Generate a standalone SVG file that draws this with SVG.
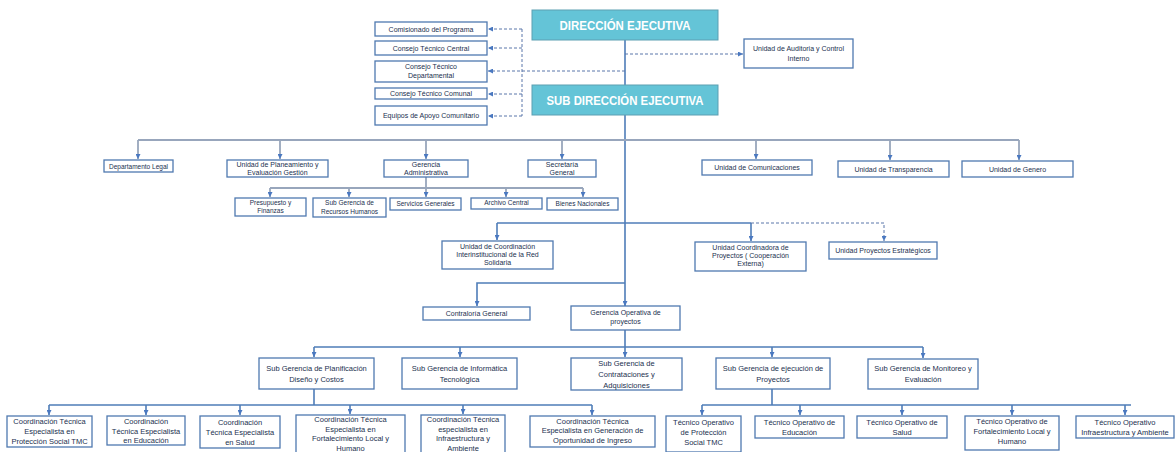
<svg xmlns="http://www.w3.org/2000/svg" width="1175" height="452" viewBox="0 0 1175 452">
<style>
.box{fill:#fff;stroke:#4f79b0;stroke-width:1.3}
.head{fill:#64c4d7;stroke:#5c9fb2;stroke-width:1}
.t{font-family:"Liberation Sans",Arial,sans-serif;font-size:7px;fill:#22304f;text-anchor:middle}
.s{font-size:6.5px}
.b{font-size:7.5px}
.title{font-family:"Liberation Sans",Arial,sans-serif;font-weight:bold;font-size:13px;fill:#fff;text-anchor:middle}
.ln{stroke:#4f7db8;stroke-width:1.6;fill:none}
.gl{stroke:#98a6bc;stroke-width:1.8;fill:none}
.ds{stroke:#5b76aa;stroke-width:1;stroke-dasharray:3 2;fill:none}
</style>
<defs>
<marker id="ah" viewBox="0 0 6 6" refX="6" refY="3" markerWidth="5" markerHeight="5" orient="auto" markerUnits="userSpaceOnUse"><path d="M0,0L6,3L0,6z" fill="#4a78c0"/></marker>
</defs>
<rect width="1175" height="452" fill="#fff"/>
<g id="connectors">
<path class="ln" d="M625,40V85M625,115V306" marker-end="url(#ah)"/>
<path class="ds" d="M625,54H743" marker-end="url(#ah)"/>
<path class="ds" d="M625,71H488" marker-end="url(#ah)"/>
<path class="ds" d="M522,29V116"/>
<path class="ds" d="M522,29H488" marker-end="url(#ah)"/>
<path class="ds" d="M522,48H488" marker-end="url(#ah)"/>
<path class="ds" d="M522,94H488" marker-end="url(#ah)"/>
<path class="ds" d="M522,116H488" marker-end="url(#ah)"/>
<path class="gl" d="M138,140H1019"/>
<path class="gl" d="M138,140V159" marker-end="url(#ah)"/>
<path class="gl" d="M280,140V159" marker-end="url(#ah)"/>
<path class="gl" d="M426,140V159" marker-end="url(#ah)"/>
<path class="gl" d="M562,140V159" marker-end="url(#ah)"/>
<path class="gl" d="M756,140V159" marker-end="url(#ah)"/>
<path class="gl" d="M890,140V160" marker-end="url(#ah)"/>
<path class="gl" d="M1019,140V160" marker-end="url(#ah)"/>
<path class="gl" d="M426,177V188M270,188H583"/>
<path class="gl" d="M270,188V197" marker-end="url(#ah)"/>
<path class="gl" d="M349,188V197" marker-end="url(#ah)"/>
<path class="gl" d="M426,188V197" marker-end="url(#ah)"/>
<path class="gl" d="M506,188V197" marker-end="url(#ah)"/>
<path class="gl" d="M583,188V197" marker-end="url(#ah)"/>
<path class="ln" d="M497,223H751"/>
<path class="ln" d="M497,223V240" marker-end="url(#ah)"/>
<path class="ln" d="M751,223V241" marker-end="url(#ah)"/>
<path class="ds" d="M751,223H884V241" marker-end="url(#ah)"/>
<path class="ln" d="M625,283H477V306" marker-end="url(#ah)"/>
<path class="ln" d="M625,330V347M314,347H923"/>
<path class="ln" d="M314,347V357" marker-end="url(#ah)"/>
<path class="ln" d="M460,347V357" marker-end="url(#ah)"/>
<path class="ln" d="M625,347V357" marker-end="url(#ah)"/>
<path class="ln" d="M772,347V357" marker-end="url(#ah)"/>
<path class="ln" d="M923,347V358" marker-end="url(#ah)"/>
<path class="ln" d="M314,389V405M49,405H592"/>
<path class="ln" d="M49,405V415" marker-end="url(#ah)"/>
<path class="ln" d="M146,405V415" marker-end="url(#ah)"/>
<path class="ln" d="M240,405V415" marker-end="url(#ah)"/>
<path class="ln" d="M350,405V414" marker-end="url(#ah)"/>
<path class="ln" d="M463,405V414" marker-end="url(#ah)"/>
<path class="ln" d="M592,405V415" marker-end="url(#ah)"/>
<path class="ln" d="M772,389V405M702,405H1131"/>
<path class="ln" d="M702,405V415" marker-end="url(#ah)"/>
<path class="ln" d="M800,405V415" marker-end="url(#ah)"/>
<path class="ln" d="M902,405V415" marker-end="url(#ah)"/>
<path class="ln" d="M1012,405V415" marker-end="url(#ah)"/>
<path class="ln" d="M1125,405V415" marker-end="url(#ah)"/>
</g>
<g id="n_dir"><rect class="head" x="532" y="10" width="186" height="30"/><text class="title" x="625" y="30" textLength="131" lengthAdjust="spacingAndGlyphs">DIRECCIÓN EJECUTIVA</text></g>
<g id="n_subdir"><rect class="head" x="532" y="85" width="186" height="30"/><text class="title" x="625" y="105" textLength="157" lengthAdjust="spacingAndGlyphs">SUB DIRECCIÓN EJECUTIVA</text></g>
<g id="n_comis"><rect class="box" x="375" y="22" width="112" height="14"/><text class="t" x="431" y="31.5">Comisionado del Programa</text></g>
<g id="n_ctc"><rect class="box" x="375" y="41" width="112" height="14"/><text class="t" x="431" y="50.5">Consejo Técnico Central</text></g>
<g id="n_ctd"><rect class="box" x="375" y="61" width="112" height="21"/><text class="t" x="431" y="69">Consejo Técnico</text><text class="t" x="431" y="78">Departamental</text></g>
<g id="n_ctcom"><rect class="box" x="375" y="88" width="112" height="11"/><text class="t" x="431" y="96">Consejo Técnico Comunal</text></g>
<g id="n_equipos"><rect class="box" x="375" y="106" width="112" height="19"/><text class="t" x="431" y="118">Equipos de Apoyo Comunitario</text></g>
<g id="n_audit"><rect class="box" x="744" y="39" width="109" height="29"/><text class="t" x="798.5" y="51">Unidad de Auditoria y Control</text><text class="t" x="798.5" y="61">Interno</text></g>
<g id="n_legal"><rect class="box" x="104" y="160" width="69" height="12"/><text class="t s" x="138.5" y="168.5">Departamento Legal</text></g>
<g id="n_planea"><rect class="box" x="227" y="160" width="101" height="17"/><text class="t" x="277.5" y="167">Unidad de Planeamiento y</text><text class="t" x="277.5" y="175">Evaluación Gestión</text></g>
<g id="n_geradm"><rect class="box" x="384" y="160" width="84" height="17"/><text class="t" x="426" y="167">Gerencia</text><text class="t" x="426" y="175">Administrativa</text></g>
<g id="n_secret"><rect class="box" x="528" y="160" width="68" height="17"/><text class="t" x="562" y="167">Secretaría</text><text class="t" x="562" y="175">General</text></g>
<g id="n_comunic"><rect class="box" x="702" y="160" width="110" height="15"/><text class="t" x="757" y="170">Unidad de Comunicaciones</text></g>
<g id="n_transp"><rect class="box" x="838" y="161" width="111" height="16"/><text class="t" x="893.5" y="171.5">Unidad de Transparencia</text></g>
<g id="n_genero"><rect class="box" x="962" y="161" width="111" height="16"/><text class="t" x="1017.5" y="171.5">Unidad de Genero</text></g>
<g id="n_presup"><rect class="box" x="235" y="198" width="71" height="18"/><text class="t s" x="270.5" y="205">Presupuesto y</text><text class="t s" x="270.5" y="213">Finanzas</text></g>
<g id="n_rrhh"><rect class="box" x="313" y="198" width="73" height="19"/><text class="t s" x="349.5" y="205">Sub Gerencia de</text><text class="t s" x="349.5" y="213.5">Recursos Humanos</text></g>
<g id="n_servgen"><rect class="box" x="390" y="198" width="71" height="12"/><text class="t s" x="425.5" y="206">Servicios Generales</text></g>
<g id="n_archivo"><rect class="box" x="471" y="198" width="71" height="11"/><text class="t s" x="506.5" y="205">Archivo Central</text></g>
<g id="n_bienes"><rect class="box" x="547" y="198" width="71" height="12"/><text class="t s" x="582.5" y="206">Bienes Nacionales</text></g>
<g id="n_ucirs"><rect class="box" x="442" y="241" width="111" height="28"/><text class="t" x="497.5" y="249">Unidad de Coordinación</text><text class="t" x="497.5" y="257">Interinstitucional de la Red</text><text class="t" x="497.5" y="265">Solidaria</text></g>
<g id="n_ucp"><rect class="box" x="695" y="242" width="111" height="29"/><text class="t" x="750.5" y="250">Unidad Coordinadora de</text><text class="t" x="750.5" y="258">Proyectos ( Cooperación</text><text class="t" x="750.5" y="266">Externa)</text></g>
<g id="n_upe"><rect class="box" x="829" y="242" width="108" height="17"/><text class="t" x="883" y="252.5">Unidad Proyectos Estratégicos</text></g>
<g id="n_contra"><rect class="box" x="423" y="307" width="107" height="13"/><text class="t" x="476.5" y="316">Contraloría General</text></g>
<g id="n_gop"><rect class="box" x="571" y="306" width="109" height="24"/><text class="t" x="625.5" y="315">Gerencia Operativa de</text><text class="t" x="625.5" y="324">proyectos</text></g>
<g id="n_sgplan"><rect class="box" x="259" y="358" width="115" height="31"/><text class="t b" x="316.5" y="371">Sub Gerencia de Planificación</text><text class="t b" x="316.5" y="382">Diseño y Costos</text></g>
<g id="n_sginf"><rect class="box" x="402" y="358" width="115" height="31"/><text class="t b" x="459.5" y="371">Sub Gerencia de Informática</text><text class="t b" x="459.5" y="382">Tecnológica</text></g>
<g id="n_sgcon"><rect class="box" x="571" y="358" width="111" height="32"/><text class="t b" x="626.5" y="366">Sub Gerencia de</text><text class="t b" x="626.5" y="377">Contrataciones y</text><text class="t b" x="626.5" y="388">Adquisiciones</text></g>
<g id="n_sgeje"><rect class="box" x="716" y="358" width="114" height="31"/><text class="t b" x="773" y="371">Sub Gerencia de ejecución de</text><text class="t b" x="773" y="382">Proyectos</text></g>
<g id="n_sgmon"><rect class="box" x="868" y="359" width="110" height="30"/><text class="t b" x="923" y="371">Sub Gerencia de Monitoreo y</text><text class="t b" x="923" y="382">Evaluación</text></g>
<g id="n_ct1"><rect class="box" x="7" y="416" width="85" height="31"/><text class="t b" x="49.5" y="424">Coordinación Técnica</text><text class="t b" x="49.5" y="434">Especialista en</text><text class="t b" x="49.5" y="444">Protección Social TMC</text></g>
<g id="n_ct2"><rect class="box" x="107" y="416" width="78" height="29"/><text class="t b" x="146" y="424">Coordinación</text><text class="t b" x="146" y="433.5">Técnica Especialista</text><text class="t b" x="146" y="443">en Educación</text></g>
<g id="n_ct3"><rect class="box" x="200" y="416" width="80" height="32"/><text class="t b" x="240" y="425">Coordinación</text><text class="t b" x="240" y="435">Técnica Especialista</text><text class="t b" x="240" y="445">en Salud</text></g>
<g id="n_ct4"><rect class="box" x="296" y="415" width="109" height="40"/><text class="t b" x="350.5" y="422">Coordinación Técnica</text><text class="t b" x="350.5" y="431.5">Especialista en</text><text class="t b" x="350.5" y="441">Fortalecimiento Local y</text><text class="t b" x="350.5" y="450.5">Humano</text></g>
<g id="n_ct5"><rect class="box" x="421" y="415" width="84" height="40"/><text class="t b" x="463" y="422">Coordinación Técnica</text><text class="t b" x="463" y="431.5">especialista en</text><text class="t b" x="463" y="441">Infraestructura y</text><text class="t b" x="463" y="450.5">Ambiente</text></g>
<g id="n_ct6"><rect class="box" x="530" y="416" width="125" height="31"/><text class="t b" x="592.5" y="423.5">Coordinación Técnica</text><text class="t b" x="592.5" y="433">Especialista en Generación de</text><text class="t b" x="592.5" y="442.5">Oportunidad de Ingreso</text></g>
<g id="n_to1"><rect class="box" x="666" y="416" width="75" height="36"/><text class="t b" x="703.5" y="425">Técnico Operativo</text><text class="t b" x="703.5" y="435">de Protección</text><text class="t b" x="703.5" y="445">Social TMC</text></g>
<g id="n_to2"><rect class="box" x="755" y="416" width="89" height="22"/><text class="t b" x="799.5" y="425">Técnico Operativo de</text><text class="t b" x="799.5" y="435">Educación</text></g>
<g id="n_to3"><rect class="box" x="857" y="416" width="90" height="22"/><text class="t b" x="902" y="425">Técnico Operativo de</text><text class="t b" x="902" y="435">Salud</text></g>
<g id="n_to4"><rect class="box" x="965" y="416" width="94" height="34"/><text class="t b" x="1012" y="424">Técnico Operativo de</text><text class="t b" x="1012" y="434">Fortalecimiento Local y</text><text class="t b" x="1012" y="444">Humano</text></g>
<g id="n_to5"><rect class="box" x="1076" y="416" width="98" height="22"/><text class="t b" x="1125" y="425">Técnico Operativo</text><text class="t b" x="1125" y="435">Infraestructura y Ambiente</text></g>
</svg>
